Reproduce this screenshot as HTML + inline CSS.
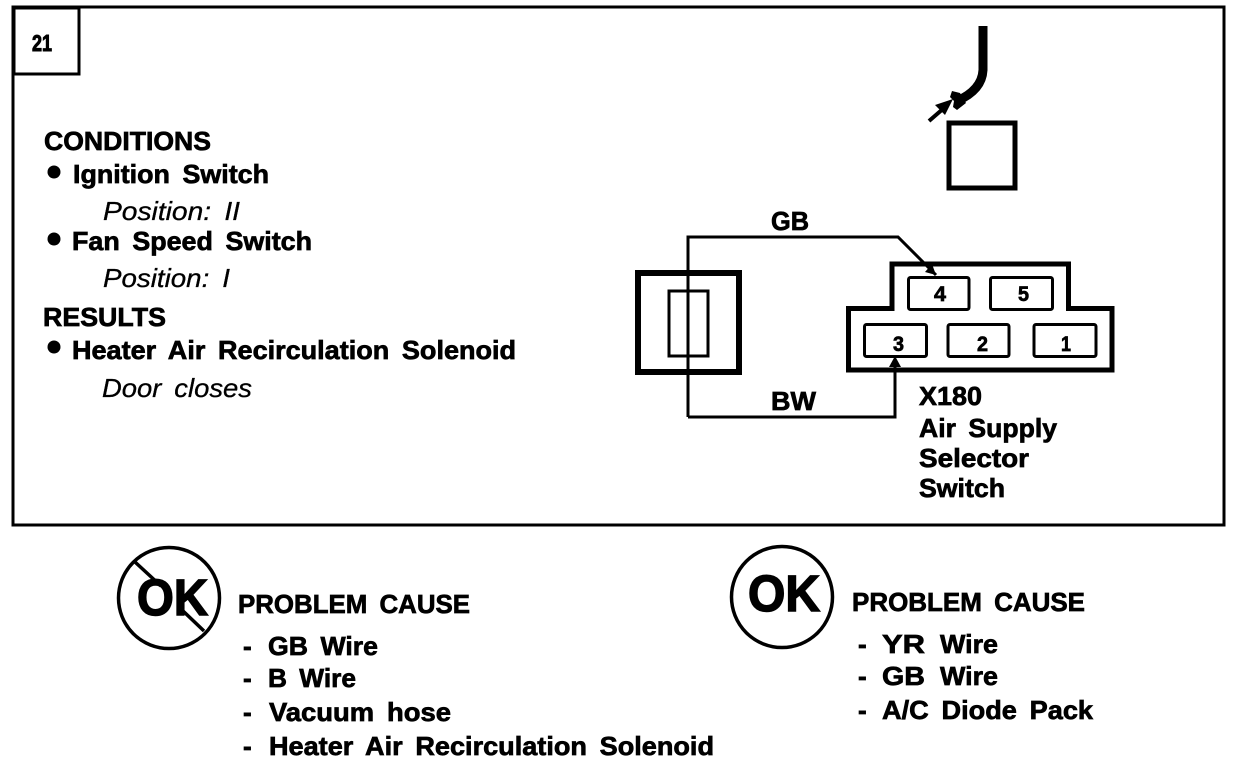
<!DOCTYPE html>
<html><head><meta charset="utf-8"><style>
html,body{margin:0;padding:0;background:#fff;width:1248px;height:762px;overflow:hidden}
svg{display:block}
text{font-family:"Liberation Sans",sans-serif;font-weight:bold;fill:#000;stroke:#000;stroke-width:.7px;font-size:26px;word-spacing:5px}
.i{font-style:italic;font-weight:normal;stroke-width:.3px}
.d{font-size:21px;stroke-width:.7px}
</style></head><body>
<svg width="1248" height="762" viewBox="0 0 1248 762" xmlns="http://www.w3.org/2000/svg">
<g fill="none" stroke="#000">
<rect x="13" y="7" width="1211" height="518" stroke-width="3"/>
<rect x="14" y="8" width="65" height="66" stroke-width="3"/>
<path d="M983 26V70Q982 90 957 101" stroke-width="9"/>
<path d="M929 121L944 108" stroke-width="4"/>
<rect x="949" y="123" width="66" height="65" stroke-width="5"/>
<rect x="638" y="273" width="101" height="99" stroke-width="6"/>
<rect x="669" y="291" width="39" height="65" stroke-width="3"/>
<path d="M688 417V237H898L936 275" stroke-width="3"/>
<path d="M688 417H895V362" stroke-width="3"/>
<path d="M848.500 370V308.500H892V264H1068.500V308.500H1112V370Z" stroke-width="5"/>
<g stroke-width="3">
<rect x="908.500" y="277.500" width="60.500" height="32" rx="2"/>
<rect x="990.500" y="277.500" width="62" height="32" rx="2"/>
<rect x="864.500" y="324.500" width="62" height="32" rx="2"/>
<rect x="948" y="324.500" width="61" height="32" rx="2"/>
<rect x="1034" y="324.500" width="62" height="32" rx="2"/>
</g>
<circle cx="169" cy="598" r="50.500" stroke-width="3.500"/>
<path d="M135 562L161 586M182 610L204 631" stroke-width="3.500"/>
<circle cx="782" cy="597" r="50.500" stroke-width="3.500"/>
</g>
<path d="M952 91L950 97L954 101L953 107L957 110L966 103L960 93Z"/>
<path d="M953 99L935 105L945 115Z"/>
<path d="M936 275L925 272L932 264Z"/>
<path d="M895 356L889 367H901Z"/>
<circle cx="54" cy="172" r="6.500"/>
<circle cx="54" cy="239" r="6.500"/>
<circle cx="54" cy="347" r="6.500"/>

<text x="32" y="51" style="font-size:23px;stroke-width:1px" textLength="20" lengthAdjust="spacingAndGlyphs">21</text>
<text x="44" y="150" textLength="167" lengthAdjust="spacingAndGlyphs">CONDITIONS</text>
<text x="73" y="183" textLength="196" lengthAdjust="spacingAndGlyphs">Ignition Switch</text>
<text class="i" x="103" y="220" textLength="137" lengthAdjust="spacingAndGlyphs">Position: II</text>
<text x="72" y="250" textLength="240" lengthAdjust="spacingAndGlyphs">Fan Speed Switch</text>
<text class="i" x="103" y="287" textLength="127" lengthAdjust="spacingAndGlyphs">Position: I</text>
<text x="43" y="326" textLength="123" lengthAdjust="spacingAndGlyphs">RESULTS</text>
<text x="72" y="359" textLength="444" lengthAdjust="spacingAndGlyphs">Heater Air Recirculation Solenoid</text>
<text class="i" x="102" y="397" textLength="150" lengthAdjust="spacingAndGlyphs">Door closes</text>

<text x="771" y="230" textLength="38" lengthAdjust="spacingAndGlyphs">GB</text>
<text x="771" y="410" textLength="45" lengthAdjust="spacingAndGlyphs">BW</text>
<text class="d" x="934" y="301" textLength="12" lengthAdjust="spacingAndGlyphs">4</text>
<text class="d" x="1018" y="301" textLength="11" lengthAdjust="spacingAndGlyphs">5</text>
<text class="d" x="893" y="351" textLength="11" lengthAdjust="spacingAndGlyphs">3</text>
<text class="d" x="977" y="351" textLength="11" lengthAdjust="spacingAndGlyphs">2</text>
<text class="d" x="1061" y="351" textLength="10" lengthAdjust="spacingAndGlyphs">1</text>
<text x="919" y="405" textLength="63" lengthAdjust="spacingAndGlyphs">X180</text>
<text x="919" y="437" textLength="138" lengthAdjust="spacingAndGlyphs">Air Supply</text>
<text x="919" y="467" textLength="110" lengthAdjust="spacingAndGlyphs">Selector</text>
<text x="919" y="497" textLength="86" lengthAdjust="spacingAndGlyphs">Switch</text>

<text x="137" y="615" style="font-size:51px;stroke-width:1.500px" textLength="71" lengthAdjust="spacingAndGlyphs">OK</text>
<text x="748" y="611" style="font-size:51px;stroke-width:1.500px" textLength="72" lengthAdjust="spacingAndGlyphs">OK</text>

<text x="238" y="613" textLength="232" lengthAdjust="spacingAndGlyphs">PROBLEM CAUSE</text>
<text x="243" y="655">-</text><text x="268" y="655" textLength="110" lengthAdjust="spacingAndGlyphs">GB Wire</text>
<text x="243" y="687">-</text><text x="268" y="687" textLength="88" lengthAdjust="spacingAndGlyphs">B Wire</text>
<text x="243" y="721">-</text><text x="269" y="721" textLength="182" lengthAdjust="spacingAndGlyphs">Vacuum hose</text>
<text x="243" y="755">-</text><text x="269" y="755" textLength="445" lengthAdjust="spacingAndGlyphs">Heater Air Recirculation Solenoid</text>

<text x="852" y="611" textLength="233" lengthAdjust="spacingAndGlyphs">PROBLEM CAUSE</text>
<text x="858" y="653">-</text><text x="882" y="653" textLength="43" lengthAdjust="spacingAndGlyphs">YR</text><text x="940" y="653" textLength="58" lengthAdjust="spacingAndGlyphs">Wire</text>
<text x="858" y="685">-</text><text x="882" y="685" textLength="43" lengthAdjust="spacingAndGlyphs">GB</text><text x="940" y="685" textLength="58" lengthAdjust="spacingAndGlyphs">Wire</text>
<text x="858" y="719">-</text><text x="882" y="719" textLength="211" lengthAdjust="spacingAndGlyphs">A/C Diode Pack</text>
</svg>
</body></html>
